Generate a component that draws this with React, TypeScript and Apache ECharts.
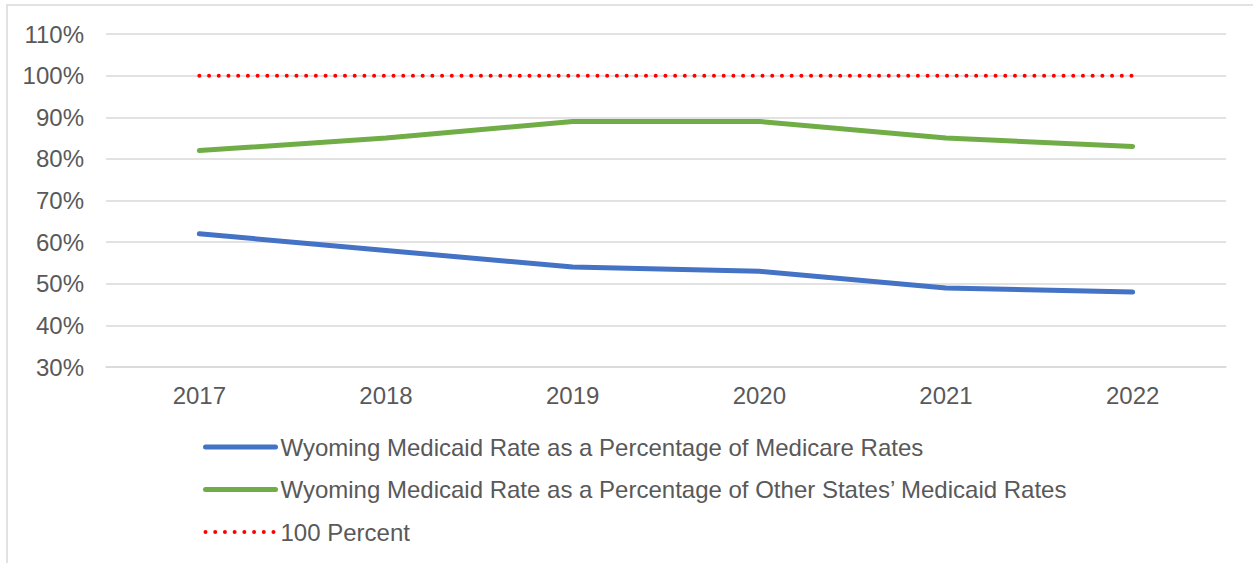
import React, { useEffect, useRef } from "react";
import * as echarts from "echarts";

const years = ["2017", "2018", "2019", "2020", "2021", "2022"];
const medicarePct = [62, 58, 54, 53, 49, 48];
const otherStatesPct = [82, 85, 89, 89, 85, 83];
const hundredPct = [100, 100, 100, 100, 100, 100];
const seriesNames = [
  "Wyoming Medicaid Rate as a Percentage of Medicare Rates",
  "Wyoming Medicaid Rate as a Percentage of Other States\u2019 Medicaid Rates",
  "100 Percent",
];
const colors = ["#4472c4", "#70ad47", "#ff0000"];

const FONT = "'Liberation Sans', Arial, sans-serif";
const TEXT = "#595959";
const FS = 24;

export default function App() {
  const ref = useRef<HTMLDivElement>(null);
  useEffect(() => {
    document.body.style.margin = "0";
    const chart = echarts.init(ref.current!, null, { renderer: "svg" });
    const dotDash = [0.01, 9.7];
    chart.setOption({
      animation: false,
      backgroundColor: "#ffffff",
      textStyle: { fontFamily: FONT },
      graphic: [
        {
          type: "rect",
          shape: { x: 7, y: 5, width: 1300, height: 700 },
          style: { fill: "none", stroke: "#d9d9d9", lineWidth: 1.5 },
          silent: true,
        },
      ],
      grid: { left: 106, right: 27, top: 34, bottom: 196, containLabel: false },
      xAxis: {
        type: "category",
        data: years,
        boundaryGap: true,
        axisLine: { show: true, lineStyle: { color: "#d9d9d9", width: 1.5 } },
        axisTick: { show: false },
        axisLabel: { color: TEXT, fontSize: FS, fontFamily: FONT, margin: 16 },
      },
      yAxis: {
        type: "value",
        min: 30,
        max: 110,
        interval: 10,
        axisLine: { show: false },
        axisTick: { show: false },
        splitLine: { lineStyle: { color: "#d9d9d9", width: 1.5 } },
        axisLabel: {
          color: TEXT,
          fontSize: FS,
          fontFamily: FONT,
          margin: 22,
          formatter: "{value}%",
        },
      },
      legend: {
        orient: "vertical",
        left: 203,
        top: 435,
        height: 140,
        padding: 0,
        itemWidth: 70,
        itemHeight: 24,
        itemGap: 18.5,
        itemStyle: { opacity: 0 },
        textStyle: { color: TEXT, fontSize: FS, fontFamily: FONT },
        data: [
          { name: seriesNames[0], lineStyle: { width: 5, cap: "round" } },
          { name: seriesNames[1], lineStyle: { width: 5, cap: "round" } },
          { name: seriesNames[2], lineStyle: { width: 4, type: dotDash, cap: "round" } },
        ],
      },
      series: [
        {
          name: seriesNames[0],
          type: "line",
          data: medicarePct,
          symbol: "none",
          lineStyle: { color: colors[0], width: 5, cap: "round", join: "round" },
          itemStyle: { color: colors[0] },
        },
        {
          name: seriesNames[1],
          type: "line",
          data: otherStatesPct,
          symbol: "none",
          lineStyle: { color: colors[1], width: 5, cap: "round", join: "round" },
          itemStyle: { color: colors[1] },
        },
        {
          name: seriesNames[2],
          type: "line",
          data: hundredPct,
          symbol: "none",
          lineStyle: { color: colors[2], width: 4, type: dotDash, cap: "round" },
          itemStyle: { color: colors[2] },
        },
      ],
    });
    return () => chart.dispose();
  }, []);
  return <div ref={ref} style={{ width: 1253, height: 563 }} />;
}
